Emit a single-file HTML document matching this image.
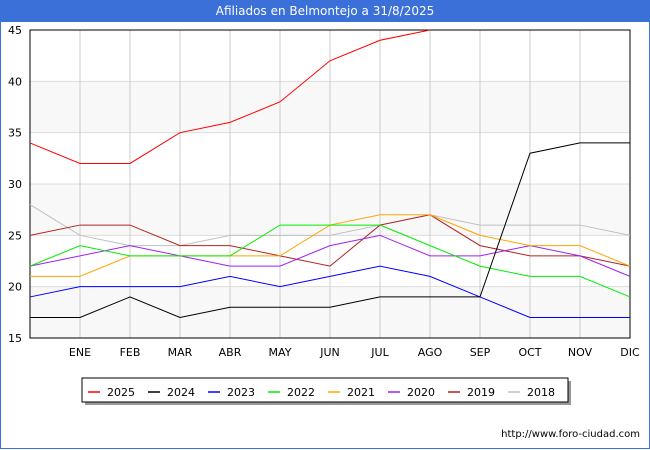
<!DOCTYPE html><html><head><meta charset="utf-8"><style>
body{margin:0;width:650px;height:450px;background:#fff;font-family:"DejaVu Sans","Liberation Sans",sans-serif;position:relative;overflow:hidden}
#title{position:absolute;left:0;top:0;width:650px;height:22px;background:#3a70d8;color:#fff;font-size:12px;line-height:22px;text-align:center}
#frame{position:absolute;left:0;top:22px;width:648px;height:426px;border:1px solid #3a70d8;border-top:none}
svg text{font-family:"DejaVu Sans","Liberation Sans",sans-serif}
</style></head><body>
<div id="title">Afiliados en Belmontejo a 31/8/2025</div>
<div id="frame"></div>
<svg id="chart" width="650" height="450" style="position:absolute;left:0;top:0"></svg>
<script>
const months=["","ENE","FEB","MAR","ABR","MAY","JUN","JUL","AGO","SEP","OCT","NOV","DIC"];
const yTicks=[15,20,25,30,35,40,45];
const seriesNames=["2025","2024","2023","2022","2021","2020","2019","2018"];
const seriesColors=["#ff0000","#000000","#0000ff","#00ee00","#ffa500","#a020f0","#b22222","#c0c0c0"];
const s2025=[34,32,32,35,36,38,42,44,45];
const s2024=[17,17,19,17,18,18,18,19,19,19,33,34,34];
const s2023=[19,20,20,20,21,20,21,22,21,19,17,17,17];
const s2022=[22,24,23,23,23,26,26,26,24,22,21,21,19];
const s2021=[21,21,23,23,23,23,26,27,27,25,24,24,22];
const s2020=[22,23,24,23,22,22,24,25,23,23,24,23,21];
const s2019=[25,26,26,24,24,23,22,26,27,24,23,23,22];
const s2018=[28,25,24,24,25,25,25,26,27,26,26,26,25];
const allSeries=[s2025,s2024,s2023,s2022,s2021,s2020,s2019,s2018];
const svg=document.getElementById('chart');const NS="http://www.w3.org/2000/svg";
const L=30,R=630,T=30,B=338;
const x=i=>L+i*(R-L)/(months.length-1);
const y=v=>B-(v-15)*(B-T)/30;
function mk(t,a,p){const e=document.createElementNS(NS,t);for(const k in a)e.setAttribute(k,a[k]);(p||svg).appendChild(e);return e;}
for(let i=0;i<yTicks.length-1;i++){if(i%2==0){const r=mk('rect',{x:L,y:y(yTicks[i+1]),width:R-L,height:y(yTicks[i])-y(yTicks[i+1]),fill:'#f8f8f8'});

}}
yTicks.forEach(v=>{const l=mk('line',{x1:L,x2:R,y1:y(v),y2:y(v),stroke:'#ddd'});


const t=mk('text',{x:L-8,y:y(v)+4,'text-anchor':'end','font-size':11,fill:'#000'});t.textContent=v;

});
months.forEach((m,i)=>{const l=mk('line',{x1:x(i),x2:x(i),y1:T,y2:B,stroke:'#ccc'});


const t=mk('text',{x:x(i),y:B+18,'text-anchor':'middle','font-size':11,fill:'#000'});t.textContent=m;

});
const ax=mk('rect',{x:L,y:T,width:R-L,height:B-T,fill:'none',stroke:'#000'});


for(let s=allSeries.length-1;s>=0;s--){const d=allSeries[s].map((v,i)=>x(i)+','+y(v)).join(' ');
const p=mk('polyline',{points:d,fill:'none',stroke:seriesColors[s],'stroke-width':1});

}
const lg=mk('g',{});


mk('rect',{x:85,y:381,width:486,height:24,fill:'#999'},lg);
mk('rect',{x:82,y:378,width:486,height:24,fill:'#fff',stroke:'#000'},lg);
seriesNames.forEach((n,i)=>{const g=mk('g',{},lg);


const lx=88+i*60;mk('line',{x1:lx,x2:lx+12,y1:392,y2:392,stroke:seriesColors[i],'stroke-width':1.5},g);
const t=mk('text',{x:lx+19,y:396,'font-size':11,fill:'#000'},g);t.textContent=n;});
const u=mk('text',{x:640,y:437,'text-anchor':'end','font-size':10,fill:'#000'});u.textContent="http://www.foro-ciudad.com";


</script></body></html>
